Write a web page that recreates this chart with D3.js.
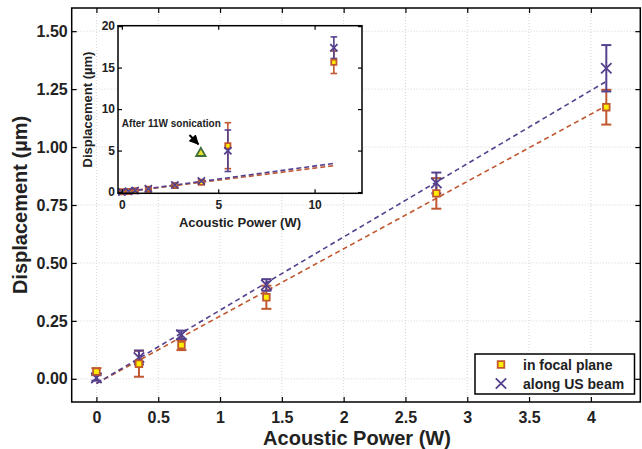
<!DOCTYPE html>
<html>
<head>
<meta charset="utf-8">
<script src="https://cdn.jsdelivr.net/npm/d3@7"></script>
<style>
  body { margin: 0; background: #fff; }
  text { font-family: "Liberation Sans", Arial, sans-serif; font-weight: bold; fill: #222; }
</style>
</head>
<body>
<svg id="chart" width="642" height="449"></svg>
<script>
// main panel data (W, um)
const power = [0, 0.344, 0.688, 1.375, 2.75, 4.125]
const focal = [0.031, 0.065, 0.145, 0.352, 0.80, 1.172]
const focalErr = [0.015, 0.056, 0.021, 0.05, 0.066, 0.075]
const beam = [0.004, 0.092, 0.19, 0.405, 0.845, 1.34]
const beamErr = [0.012, 0.03, 0.018, 0.025, 0.045, 0.1]

// inset data, same runs plus the two high powers
const powerInset = [0, 0.344, 0.688, 1.375, 2.75, 4.125, 5.5, 11]
const focalInset = [0.031, 0.065, 0.145, 0.352, 0.80, 1.172, 5.59, 15.64]
const focalInsetErr = [0.015, 0.056, 0.021, 0.05, 0.066, 0.075, 2.77, 1.35]
const beamInset = [0.004, 0.092, 0.19, 0.405, 0.845, 1.34, 4.98, 17.4]
const beamInsetErr = [0.012, 0.03, 0.018, 0.025, 0.045, 0.1, 2.5, 1.3]

// linear fits [slope, intercept]
const focalFit = [0.2905, -0.02]
const beamFit = [0.316, -0.02]

const afterSonication = [4.1, 4.67]
const arrowFrom = [3.51, 6.88], arrowTo = [3.97, 5.76]

const xTicks = [0, 0.5, 1, 1.5, 2, 2.5, 3, 3.5, 4]
const yTicks = [0, 0.25, 0.5, 0.75, 1, 1.25, 1.5]
const xTicksInset = [0, 5, 10]
const yTicksInset = [0, 5, 10, 15, 20]

const ORANGE = '#c0582f', PURPLE = '#55408e', YELLOW = '#ffee00'

const svg = d3.select('#chart')

let x = d3.scaleLinear().domain([-0.2, 4.4]).range([71.7, 640.3])
let y = d3.scaleLinear().domain([-0.1, 1.6]).range([402, 8])

// grid
let grid = svg.append('g')
grid.selectAll('.gx').data(xTicks).enter().append('line')
    .attr('x1', d => x(d)).attr('x2', d => x(d))
    .attr('y1', y.range()[0]).attr('y2', y.range()[1])
grid.selectAll('.gy').data(yTicks).enter().append('line')
    .attr('y1', d => y(d)).attr('y2', d => y(d))
    .attr('x1', x.range()[0]).attr('x2', x.range()[1])
grid.selectAll('line').style('stroke', '#d4d4d4').style('stroke-width', 1).style('stroke-dasharray', '1,2')

const drawSeries = (g, xs, ys, xv, vals, errs, fit, fitEnd, opt) => {
    let line = d3.line().x(d => xs(d)).y(d => ys(fit[0] * d + fit[1]))
    g.append('path')
        .attr('d', line([0, fitEnd]))
        .style('fill', 'none').style('stroke', opt.color)
        .style('stroke-width', opt.lw).style('stroke-dasharray', opt.dash)
    let eb = g.append('g').selectAll('g').data(xv).enter().append('g')
        .style('stroke', opt.color).style('stroke-width', opt.ew)
    eb.append('line')
        .attr('x1', d => xs(d)).attr('x2', d => xs(d))
        .attr('y1', (d, i) => ys(vals[i] - errs[i])).attr('y2', (d, i) => ys(vals[i] + errs[i]))
    eb.append('line')
        .attr('x1', d => xs(d) - opt.cap).attr('x2', d => xs(d) + opt.cap)
        .attr('y1', (d, i) => ys(vals[i] - errs[i])).attr('y2', (d, i) => ys(vals[i] - errs[i]))
    eb.append('line')
        .attr('x1', d => xs(d) - opt.cap).attr('x2', d => xs(d) + opt.cap)
        .attr('y1', (d, i) => ys(vals[i] + errs[i])).attr('y2', (d, i) => ys(vals[i] + errs[i]))
}

const drawMarkers = (g, xs, ys, xv, vals, kind, size) => {
    let m = g.append('g').selectAll('path').data(xv).enter().append('path')
        .attr('transform', (d, i) => `translate(${xs(d)},${ys(vals[i])})`)
    if (kind === 'square') {
        m.attr('d', `M${-size},${-size}h${2 * size}v${2 * size}h${-2 * size}Z`)
            .style('fill', YELLOW).style('stroke', ORANGE).style('stroke-width', 1.8)
    } else {
        m.attr('d', `M${-size},${-size}L${size},${size}M${-size},${size}L${size},${-size}`)
            .style('fill', 'none').style('stroke', PURPLE).style('stroke-width', 1.8)
    }
}

let plot = svg.append('g')
let mainOpt = c => ({color: c, lw: 1.6, dash: '5,3.5', ew: 2, cap: 5})
drawSeries(plot, x, y, power, focal, focalErr, focalFit, 4.125, mainOpt(ORANGE))
drawSeries(plot, x, y, power, beam, beamErr, beamFit, 4.125, mainOpt(PURPLE))
drawMarkers(plot, x, y, power, beam, 'cross', 5.2)
drawMarkers(plot, x, y, power, focal, 'square', 3.3)

// axes, ticks inside on all four sides
const styleAxis = g => {
    g.select('.domain').remove()
    g.selectAll('.tick line').style('stroke', '#000').style('stroke-width', 1.2)
    g.selectAll('text').style('fill', '#222').style('font-family', '"Liberation Sans", Arial, sans-serif')
}
svg.append('g').attr('transform', `translate(0,${y.range()[0]})`)
    .call(d3.axisBottom(x).tickValues(xTicks).tickSizeInner(-5).tickSizeOuter(0).tickPadding(10).tickFormat(d => d))
    .call(styleAxis).selectAll('text').style('font-size', '16px').style('font-weight', 'bold')
svg.append('g').attr('transform', `translate(0,${y.range()[1]})`)
    .call(d3.axisTop(x).tickValues(xTicks).tickSizeInner(-5).tickSizeOuter(0).tickFormat(''))
    .call(styleAxis)
svg.append('g').attr('transform', `translate(${x.range()[0]},0)`)
    .call(d3.axisLeft(y).tickValues(yTicks).tickSizeInner(-5).tickSizeOuter(0).tickPadding(4).tickFormat(d3.format('.2f')))
    .call(styleAxis).selectAll('text').style('font-size', '16px').style('font-weight', 'bold')
svg.append('g').attr('transform', `translate(${x.range()[1]},0)`)
    .call(d3.axisRight(y).tickValues(yTicks).tickSizeInner(-5).tickSizeOuter(0).tickFormat(''))
    .call(styleAxis)

svg.append('rect')
    .attr('x', x.range()[0]).attr('y', y.range()[1])
    .attr('width', x.range()[1] - x.range()[0]).attr('height', y.range()[0] - y.range()[1])
    .style('fill', 'none').style('stroke', '#000').style('stroke-width', 1.5)

svg.append('text').attr('x', 357).attr('y', 445)
    .attr('text-anchor', 'middle').style('font-size', '20px')
    .text('Acoustic Power (W)')
svg.append('text').attr('transform', 'translate(20,205) rotate(-90)')
    .attr('text-anchor', 'middle').attr('dy', '0.35em').style('font-size', '20px')
    .text('Displacement (µm)')

// legend
let legend = svg.append('g')
legend.append('rect').attr('x', 475).attr('y', 354).attr('width', 159.5).attr('height', 40)
    .style('fill', '#fff').style('stroke', '#000').style('stroke-width', 1.5)
drawMarkers(legend, d => 501, d => d, [0], [364.5], 'square', 3.3)
drawMarkers(legend, d => 501, d => d, [0], [383.5], 'cross', 5.2)
legend.append('text').attr('x', 523).attr('y', 369.5).style('font-size', '14px').text('in focal plane')
legend.append('text').attr('x', 523).attr('y', 388.5).style('font-size', '14px').text('along US beam')

// inset
let ix = d3.scaleLinear().domain([-0.2, 12.46]).range([118, 362])
let iy = d3.scaleLinear().domain([-0.15, 20.05]).range([193.3, 25.7])

let inset = svg.append('g')
inset.append('rect')
    .attr('x', ix.range()[0]).attr('y', iy.range()[1])
    .attr('width', ix.range()[1] - ix.range()[0]).attr('height', iy.range()[0] - iy.range()[1])
    .style('fill', '#fff')

let insetOpt = c => ({color: c, lw: 1.6, dash: '5,3', ew: 1.6, cap: 3.3})
drawSeries(inset, ix, iy, powerInset, focalInset, focalInsetErr, focalFit, 11, insetOpt(ORANGE))
drawSeries(inset, ix, iy, powerInset, beamInset, beamInsetErr, beamFit, 11, insetOpt(PURPLE))
drawMarkers(inset, ix, iy, powerInset, focalInset, 'square', 2.6)
drawMarkers(inset, ix, iy, powerInset, beamInset, 'cross', 3.6)

inset.append('path')
    .attr('transform', `translate(${ix(afterSonication[0])},${iy(afterSonication[1])})`)
    .attr('d', d3.symbol().type(d3.symbolTriangle).size(38)())
    .style('fill', '#e6e02a').style('stroke', '#3f6e3f').style('stroke-width', 1.8)

svg.append('defs').append('marker').attr('id', 'arrowhead')
    .attr('viewBox', '0 0 10 10').attr('refX', 9).attr('refY', 5)
    .attr('markerWidth', 5).attr('markerHeight', 5).attr('orient', 'auto')
    .append('path').attr('d', 'M0,0L10,5L0,10Z').style('fill', '#000')
inset.append('line')
    .attr('x1', ix(arrowFrom[0])).attr('y1', iy(arrowFrom[1]))
    .attr('x2', ix(arrowTo[0])).attr('y2', iy(arrowTo[1]))
    .style('stroke', '#000').style('stroke-width', 2).attr('marker-end', 'url(#arrowhead)')
inset.append('text').attr('x', ix(0)).attr('y', iy(7.84)).style('font-size', '10px')
    .text('After 11W sonication')

inset.append('g').attr('transform', `translate(0,${iy.range()[0]})`)
    .call(d3.axisBottom(ix).tickValues(xTicksInset).tickSizeInner(-4).tickSizeOuter(0).tickPadding(7))
    .call(styleAxis).selectAll('text').style('font-size', '12px').style('font-weight', 'bold')
inset.append('g').attr('transform', `translate(0,${iy.range()[1]})`)
    .call(d3.axisTop(ix).tickValues(xTicksInset).tickSizeInner(-4).tickSizeOuter(0).tickFormat(''))
    .call(styleAxis)
inset.append('g').attr('transform', `translate(${ix.range()[0]},0)`)
    .call(d3.axisLeft(iy).tickValues(yTicksInset).tickSizeInner(-4).tickSizeOuter(0).tickPadding(3))
    .call(styleAxis).selectAll('text').style('font-size', '12px').style('font-weight', 'bold')
inset.append('g').attr('transform', `translate(${ix.range()[1]},0)`)
    .call(d3.axisRight(iy).tickValues(yTicksInset).tickSizeInner(-4).tickSizeOuter(0).tickFormat(''))
    .call(styleAxis)
inset.append('rect')
    .attr('x', ix.range()[0]).attr('y', iy.range()[1])
    .attr('width', ix.range()[1] - ix.range()[0]).attr('height', iy.range()[0] - iy.range()[1])
    .style('fill', 'none').style('stroke', '#000').style('stroke-width', 1.5)

inset.append('text').attr('x', 240).attr('y', 227)
    .attr('text-anchor', 'middle').style('font-size', '13px')
    .text('Acoustic Power (W)')
inset.append('text').attr('transform', 'translate(87,109.5) rotate(-90)')
    .attr('text-anchor', 'middle').attr('dy', '0.35em').style('font-size', '13px')
    .text('Displacement (µm)')
</script>
</body>
</html>
